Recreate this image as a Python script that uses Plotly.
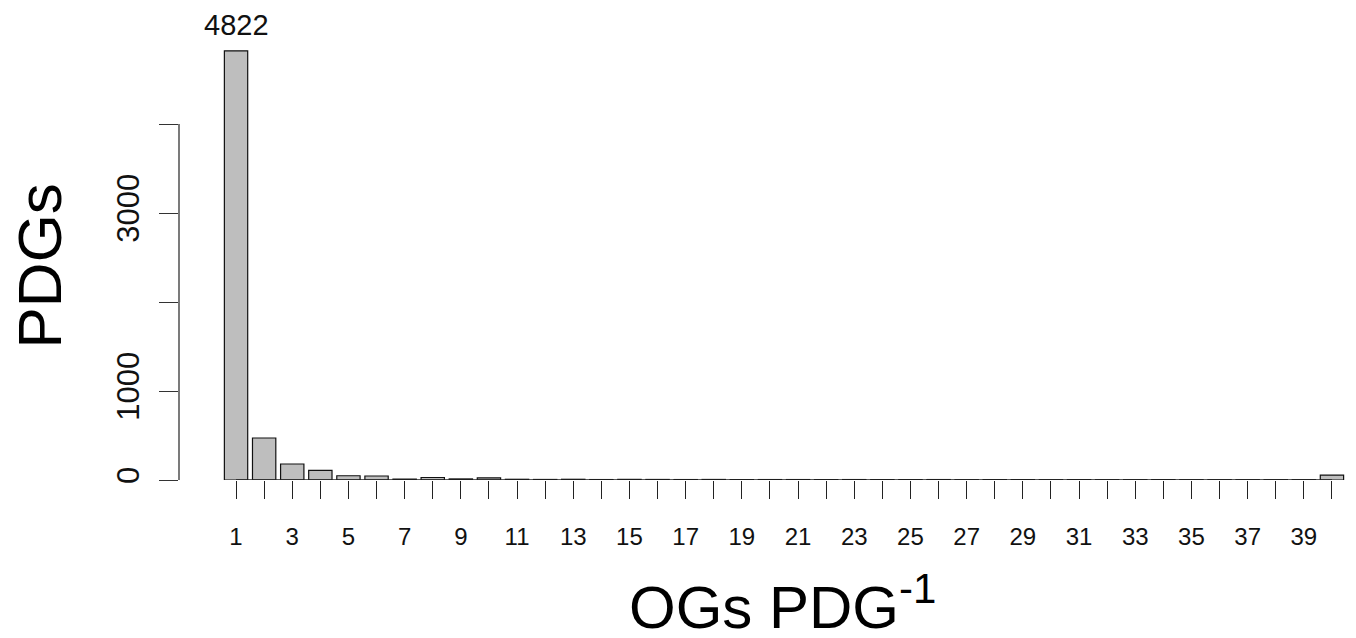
import plotly.graph_objects as go

categories = list(range(1, 41))
pdg_counts = [4822, 472, 180, 108, 48, 45, 10, 28, 12, 24,
              8, 6, 8, 5, 7, 6, 5, 6, 4, 5,
              5, 4, 5, 4, 4, 5, 3, 4, 4, 3,
              4, 3, 3, 4, 3, 3, 3, 3, 3, 55]
y_tickvals = [0, 1000, 2000, 3000, 4000]
y_ticktext = ["0", "1000", "", "3000", ""]
x_ticktext = [str(c) if c % 2 == 1 else "" for c in categories]

W, H = 1356, 638
L, R, T, B = 179, 10, 35, 158

fig = go.Figure()
fig.add_trace(go.Bar(
    x=categories, y=pdg_counts, width=0.83,
    marker=dict(color="#bebebe", line=dict(color="#111111", width=1.2)),
    showlegend=False, hoverinfo="x+y",
))

fig.add_annotation(x=categories[0], y=pdg_counts[0], xref="x", yref="y",
                   text=str(pdg_counts[0]), showarrow=False, yanchor="bottom",
                   yshift=8, font=dict(size=29, color="#111111", family="Liberation Sans, Arial"))

# y-axis line spanning 0..4000 only (R style)
fig.add_shape(type="line", xref="paper", yref="y", x0=0, x1=0,
              y0=y_tickvals[0], y1=y_tickvals[-1], line=dict(color="#333333", width=1.3))
# x-axis line from first to last tick
fig.add_shape(type="line", xref="x", yref="y", x0=categories[0], x1=categories[-1],
              y0=0, y1=0, line=dict(color="#222222", width=1.3))

fig.add_annotation(xref="paper", yref="paper", x=(2 - L) / (W - L - R), y=(H - 266 - B) / (H - T - B),
                   text="PDGs", textangle=-90, showarrow=False,
                   font=dict(size=62, color="#000000", family="Liberation Sans, Arial"))
fig.add_annotation(xref="paper", yref="paper", x=(782 - L) / (W - L - R), y=(H - 643 - B) / (H - T - B),
                   text="OGs PDG<sup>-1</sup>", showarrow=False,
                   font=dict(size=60, color="#000000", family="Liberation Sans, Arial"))

fig.update_layout(
    width=W, height=H,
    margin=dict(l=L, r=R, t=T, b=B, autoexpand=False),
    paper_bgcolor="white", plot_bgcolor="white",
    font=dict(family="Liberation Sans, Arial", color="#111111"),
    xaxis=dict(range=[-1.03, 40.5], tickmode="array", tickvals=categories,
               ticktext=x_ticktext, ticks="outside", ticklen=18, tickwidth=1.3,
               tickcolor="#222222", showline=False, showgrid=False, zeroline=False,
               tickfont=dict(size=24, color="#111111"), ticklabelstandoff=17),
    yaxis=dict(range=[0, 5000], tickmode="array", tickvals=y_tickvals,
               ticktext=y_ticktext, ticks="outside", ticklen=19, tickwidth=1.3,
               tickcolor="#333333", showline=False, showgrid=False, zeroline=False,
               tickangle=-90, tickfont=dict(size=31, color="#111111"),
               ticklabelstandoff=8),
)

fig.write_html("out.html")
